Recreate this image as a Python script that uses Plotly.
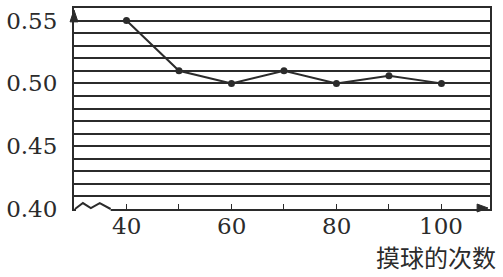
import plotly.graph_objects as go

# Data
draws = [40, 50, 60, 70, 80, 90, 100]
freq = [0.55, 0.51, 0.50, 0.51, 0.50, 0.506, 0.50]
y_ticks = [0.40, 0.45, 0.50, 0.55]
x_ticks = [40, 60, 80, 100]
x_minor = [50, 70, 90]
x_title = "摸球的次数"

INK = "#2b2b2b"
SERIF = "DejaVu Serif"
W, H = 503, 277
ML, MR, MT, MB = 70, 13, 6, 68
PW, PH = W - ML - MR, H - MT - MB

def px(dx):
    return dx / PW

def py(dy):
    return dy / PH

fig = go.Figure()
fig.add_trace(go.Scatter(
    x=draws, y=freq, mode="lines+markers",
    line=dict(color=INK, width=2),
    marker=dict(color=INK, size=7),
    showlegend=False, hoverinfo="skip",
))

# zigzag break near origin
zz = [(1, 0), (9, 6), (17, 1), (26, 6), (37, 0)]
zpath = "M " + " L ".join(f"{px(a)},{py(b)}" for a, b in zz)

shapes = [
    dict(type="rect", xref="paper", yref="paper", x0=px(2), x1=px(37),
         y0=py(-3), y1=py(3), fillcolor="white", line=dict(width=0), layer="above"),
    dict(type="path", xref="paper", yref="paper", path=zpath,
         line=dict(color=INK, width=2), layer="above"),
    # y-axis arrow head
    dict(type="path", xref="paper", yref="paper",
         path=f"M {px(-4)},{py(PH-14)} L 0,{py(PH-2)} L {px(4)},{py(PH-14)} Z",
         fillcolor=INK, line=dict(color=INK, width=1), layer="above"),
    # x-axis arrow head
    dict(type="path", xref="paper", yref="paper",
         path=f"M {px(PW-13)},{py(5)} L {px(PW-2)},{py(1)} L {px(PW-13)},{py(-3)} Z",
         fillcolor=INK, line=dict(color=INK, width=1), layer="above"),
]

annotations = [dict(
    text=str(v), x=v, xref="x", y=py(-17), yref="paper",
    xanchor="center", yanchor="middle", showarrow=False, height=24,
    font=dict(family=SERIF, size=23, color=INK),
) for v in x_ticks]
annotations.append(dict(
    text=x_title, xref="paper", yref="paper",
    x=px(498 - ML), y=py(209 - 277), xanchor="right", yanchor="bottom",
    showarrow=False,
    font=dict(family="Noto Sans CJK SC", size=24, color=INK),
))

fig.update_layout(
    width=W, height=H,
    margin=dict(l=ML, r=MR, t=MT, b=MB, pad=0),
    paper_bgcolor="white", plot_bgcolor="white",
    shapes=shapes,
    xaxis=dict(
        range=[30, 109.25], tickmode="array", tickvals=x_ticks,
        showticklabels=False,
        ticks="inside", ticklen=5, tickwidth=1, tickcolor=INK,
        minor=dict(tickmode="array", tickvals=x_minor, ticks="inside",
                   ticklen=5, tickwidth=1, tickcolor=INK),
        showgrid=False, zeroline=False,
        showline=True, mirror=True, linecolor=INK, linewidth=2,
    ),
    yaxis=dict(
        range=[0.40, 0.56], tickmode="array", tickvals=y_ticks,
        ticktext=[f"{v:.2f}" for v in y_ticks],
        ticks="", showgrid=True, gridcolor=INK, gridwidth=1.6,
        minor=dict(tick0=0.40, dtick=0.01, showgrid=True,
                   gridcolor=INK, gridwidth=1.6, ticks=""),
        zeroline=False,
        showline=True, mirror=True, linecolor=INK, linewidth=2,
        tickfont=dict(family=SERIF, size=23, color=INK),
        ticklabelstandoff=10,
    ),
    annotations=annotations,
)

fig.write_html("out.html")
